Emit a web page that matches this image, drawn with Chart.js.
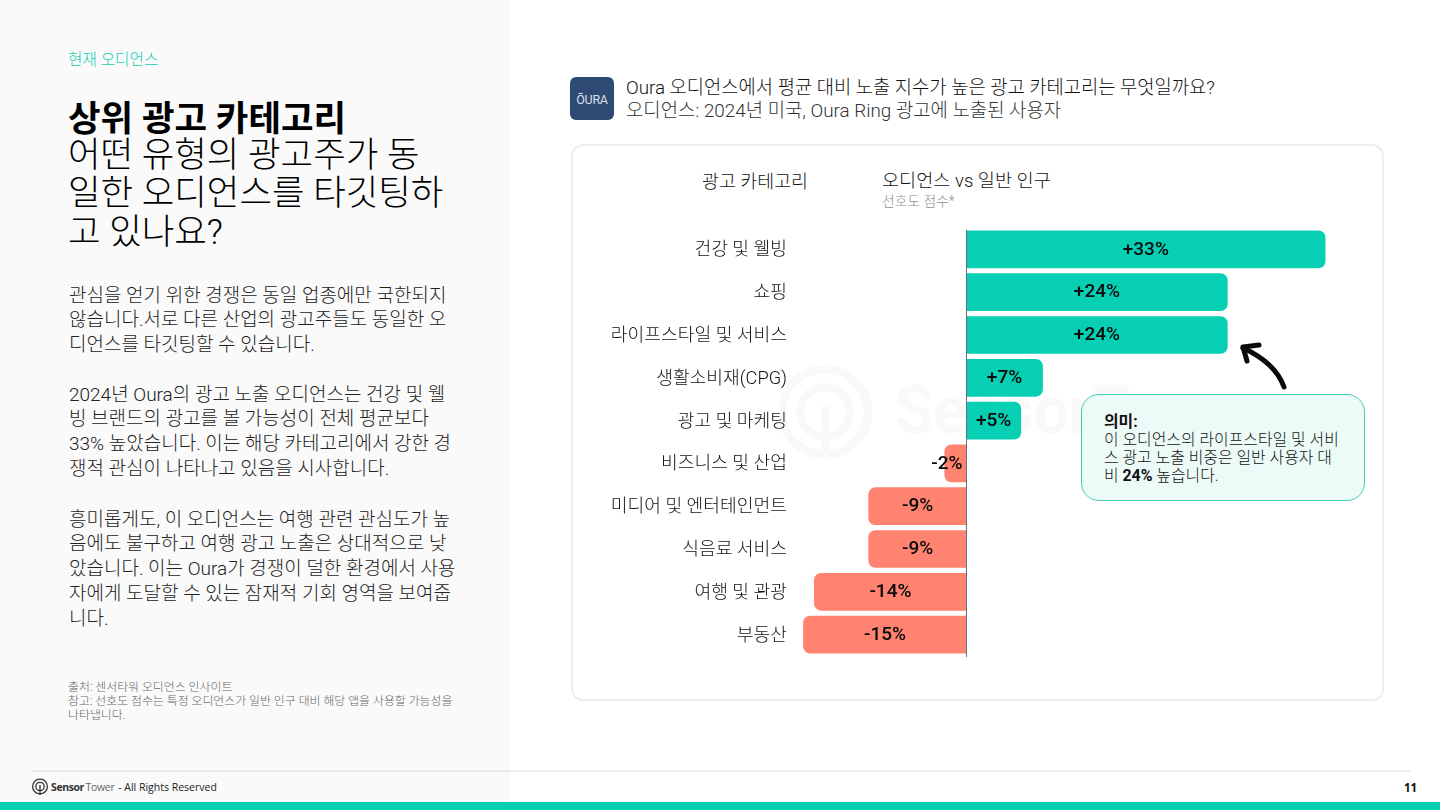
<!DOCTYPE html>
<html lang="ko">
<head>
<meta charset="utf-8">
<script src="https://cdn.jsdelivr.net/npm/chart.js@4"></script>
<style>
  html, body { margin: 0; padding: 0; background: #fff; }
  body { width: 1440px; height: 810px; position: relative; overflow: hidden;
         font-family: Roboto, "Noto Sans CJK KR", sans-serif; font-weight: 300; color: #111; }
  .abs { position: absolute; white-space: nowrap; }
  #side { left: 0; top: 0; width: 510px; height: 802px; background: #fafafa; }
  #eyebrow { left: 68px; top: 49px; font-size: 15.7px; line-height: 22px; color: #12cfb3; }
  #headline { left: 68px; top: 98px; font-size: 35.4px; line-height: 38.2px; color: #000; }
  #headline b { font-weight: 700; position: relative; top: 2px; }
  .body { left: 69px; font-size: 19px; line-height: 24.8px; color: #222; }
  #notes { left: 68px; top: 680px; font-size: 11.9px; line-height: 14px; color: #666; }
  #oura { left: 570px; top: 77px; width: 44px; height: 43px; border-radius: 6px; background: #2f4a75;
          color: #d8dee8; font: 400 12.5px/46px Roboto, sans-serif; text-align: center; letter-spacing: -.3px; }
  #title { left: 626px; top: 77px; font-size: 18.75px; line-height: 22.5px; color: #111; }
  #title span { color: #333; font-size: 18.85px; }
  #card { left: 571px; top: 144px; width: 809px; height: 553px; border: 2px solid #eeeeee; border-radius: 12px; background: #fff; }
  #mark { left: 780px; top: 360px; width: 500px; height: 110px; }
  #colA { left: 702px; top: 169px; font-size: 18.4px; line-height: 25px; }
  #colB { left: 882px; top: 169px; font-size: 18.6px; line-height: 25px; }
  #colSub { left: 882px; top: 192px; font-size: 13.8px; line-height: 18px; color: #8f8f8f; }
  #plot { left: 572px; top: 146px; width: 808px; height: 552px; }
  #callout { left: 1081px; top: 394px; width: 282px; height: 105px; border: 1.5px solid #3fcdb2; border-radius: 18px; background: #edfbf8; }
  #calloutText { left: 1104px; top: 412.5px; font-size: 15.9px; line-height: 18px; color: #111; }
  #calloutText b { font-weight: 700; }
  #arrow { left: 1225px; top: 335px; width: 75px; height: 60px; }
  #rule { left: 32px; top: 770px; width: 1378px; height: 2px; background: #ececec; }
  #footLogo { left: 31px; top: 778px; width: 18px; height: 18px; }
  #footText { left: 51px; top: 779px; font: 400 10.5px/17px "Open Sans", sans-serif; color: #222; }
  #footText b { font-weight: 700; color: #333; letter-spacing: -.4px; }
  #footText i { font-style: normal; color: #666; letter-spacing: -.3px; margin-left: 1.5px; margin-right: 1px; }
  #page { left: 1404px; top: 779px; font: 700 11.5px/17px "Open Sans", sans-serif; color: #111; }
  #band { left: 0; top: 802px; width: 1440px; height: 8px; background: #06cfb4; }
</style>
</head>
<body>
<div class="abs" id="side"></div>
<div class="abs" id="eyebrow">현재 오디언스</div>
<div class="abs" id="headline"><b>상위 광고 카테고리</b><br>어떤 유형의 광고주가 동<br>일한 오디언스를 타깃팅하<br>고 있나요?</div>
<div class="abs body" style="top:283.5px">관심을 얻기 위한 경쟁은 동일 업종에만 국한되지<br>않습니다.서로 다른 산업의 광고주들도 동일한 오<br>디언스를 타깃팅할 수 있습니다.</div>
<div class="abs body" style="top:382.5px">2024년 Oura의 광고 노출 오디언스는 건강 및 웰<br>빙 브랜드의 광고를 볼 가능성이 전체 평균보다<br>33% 높았습니다. 이는 해당 카테고리에서 강한 경<br>쟁적 관심이 나타나고 있음을 시사합니다.</div>
<div class="abs body" style="top:507.5px">흥미롭게도, 이 오디언스는 여행 관련 관심도가 높<br>음에도 불구하고 여행 광고 노출은 상대적으로 낮<br>았습니다. 이는 Oura가 경쟁이 덜한 환경에서 사용<br>자에게 도달할 수 있는 잠재적 기회 영역을 보여줍<br>니다.</div>
<div class="abs" id="notes">출처: 센서타워 오디언스 인사이트<br>참고: 선호도 점수는 특정 오디언스가 일반 인구 대비 해당 앱을 사용할 가능성을<br>나타냅니다.</div>

<div class="abs" id="oura">ŌURA</div>
<div class="abs" id="title">Oura 오디언스에서 평균 대비 노출 지수가 높은 광고 카테고리는 무엇일까요?<br><span>오디언스: 2024년 미국, Oura Ring 광고에 노출된 사용자</span></div>

<div class="abs" id="card"></div>
<svg class="abs" id="mark" viewBox="0 0 500 110">
  <g fill="none" stroke="#f9f9f9" stroke-width="8">
    <circle cx="45" cy="52" r="43"/><circle cx="45" cy="52" r="25"/>
  </g>
  <path d="M45 46V94" stroke="#f9f9f9" stroke-width="8"/>
  <text x="115" y="73" font-family="Roboto, sans-serif" font-weight="700" font-size="66" fill="#f9f9f9" textLength="367" lengthAdjust="spacingAndGlyphs">SensorTower</text>
</svg>
<div class="abs" id="colA">광고 카테고리</div>
<div class="abs" id="colB">오디언스 vs 일반 인구</div>
<div class="abs" id="colSub">선호도 점수*</div>
<div class="abs" id="plot"><canvas id="chart" width="808" height="552"></canvas></div>

<div class="abs" id="callout"></div>
<div class="abs" id="calloutText"><b>의미:</b><br>이 오디언스의 라이프스타일 및 서비<br>스 광고 노출 비중은 일반 사용자 대<br>비 <b>24%</b> 높습니다.</div>
<svg class="abs" id="arrow" viewBox="0 0 75 60" fill="none" stroke="#0a0a0a" stroke-width="5" stroke-linecap="round" stroke-linejoin="round">
  <path d="M59 52C54 38 42 24 18 13"/>
  <path d="M22 26L18 12L34 10"/>
</svg>

<div class="abs" id="rule"></div>
<svg class="abs" id="footLogo" viewBox="0 0 18 18" fill="none" stroke="#333" stroke-width="1.3">
  <circle cx="9" cy="8.5" r="7.4"/><circle cx="9" cy="8.5" r="4.2"/><path d="M9 7V17"/>
</svg>
<div class="abs" id="footText"><b>Sensor</b><i>Tower</i> - All Rights Reserved</div>
<div class="abs" id="page">11</div>
<div class="abs" id="band"></div>

<script>
// Ad categories and their audience index against the general population (%)
const categories = ['건강 및 웰빙', '쇼핑', '라이프스타일 및 서비스', '생활소비재(CPG)', '광고 및 마케팅',
                    '비즈니스 및 산업', '미디어 및 엔터테인먼트', '식음료 서비스', '여행 및 관광', '부동산'];
const affinityValues = [33, 24, 24, 7, 5, -2, -9, -9, -14, -15];
const axisRange = [-16, 34];

const POSITIVE = '#06cfb4';
const NEGATIVE = '#ff8370';
const KR_STACK = 'Roboto, "Noto Sans CJK KR", sans-serif';

// Writes +/-N% on each bar; a label wider than its bar hugs the baseline instead of centring.
const valueLabels = {
  id: 'valueLabels',
  afterDatasetsDraw(chart) {
    const { ctx } = chart;
    const bars = chart.getDatasetMeta(0).data;
    ctx.save();
    ctx.font = '500 19px ' + KR_STACK;
    ctx.fillStyle = '#0a0a0a';
    ctx.textBaseline = 'middle';
    bars.forEach((bar, i) => {
      const v = affinityValues[i];
      const text = (v > 0 ? '+' : '') + v + '%';
      const width = Math.abs(bar.x - bar.base);
      const y = bar.y + 0.5;
      if (ctx.measureText(text).width + 4 > width) {
        ctx.textAlign = 'right';
        ctx.fillText(text, bar.base - 4, y);
      } else {
        ctx.textAlign = 'center';
        ctx.fillText(text, (bar.x + bar.base) / 2, y);
      }
    });
    ctx.restore();
  }
};

// Vertical baseline at zero, running slightly past the last bar.
const zeroLine = {
  id: 'zeroLine',
  afterDatasetsDraw(chart) {
    const { ctx, chartArea, scales } = chart;
    const x = Math.round(scales.x.getPixelForValue(0)) + 0.5;
    ctx.save();
    ctx.strokeStyle = '#66707c';
    ctx.lineWidth = 1;
    ctx.beginPath();
    ctx.moveTo(x, chartArea.top + 2);
    ctx.lineTo(x, chartArea.bottom + 1);
    ctx.stroke();
    ctx.restore();
  }
};

new Chart(document.getElementById('chart'), {
  type: 'bar',
  data: {
    labels: categories,
    datasets: [{
      data: affinityValues,
      backgroundColor: affinityValues.map(v => (v >= 0 ? POSITIVE : NEGATIVE)),
      borderRadius: 7,
      borderSkipped: 'start',
      barThickness: 37
    }]
  },
  options: {
    indexAxis: 'y',
    responsive: false,
    animation: false,
    layout: { padding: { top: 82, bottom: 42, right: 44, left: 0 } },
    plugins: { legend: { display: false }, tooltip: { enabled: false } },
    scales: {
      x: {
        min: axisRange[0],
        max: axisRange[1],
        border: { display: false },
        ticks: { display: false },
        grid: { display: false, drawTicks: false },
        afterFit(axis) { axis.height = 0; }
      },
      y: {
        border: { display: false },
        grid: { display: false, drawTicks: false },
        ticks: { color: '#111', padding: 5.6, labelOffset: 1.5, font: { family: KR_STACK, size: 18.2, weight: 300 } },
        afterFit(axis) { axis.width = 220.6; }
      }
    }
  },
  plugins: [valueLabels, zeroLine]
});
</script>
</body>
</html>
